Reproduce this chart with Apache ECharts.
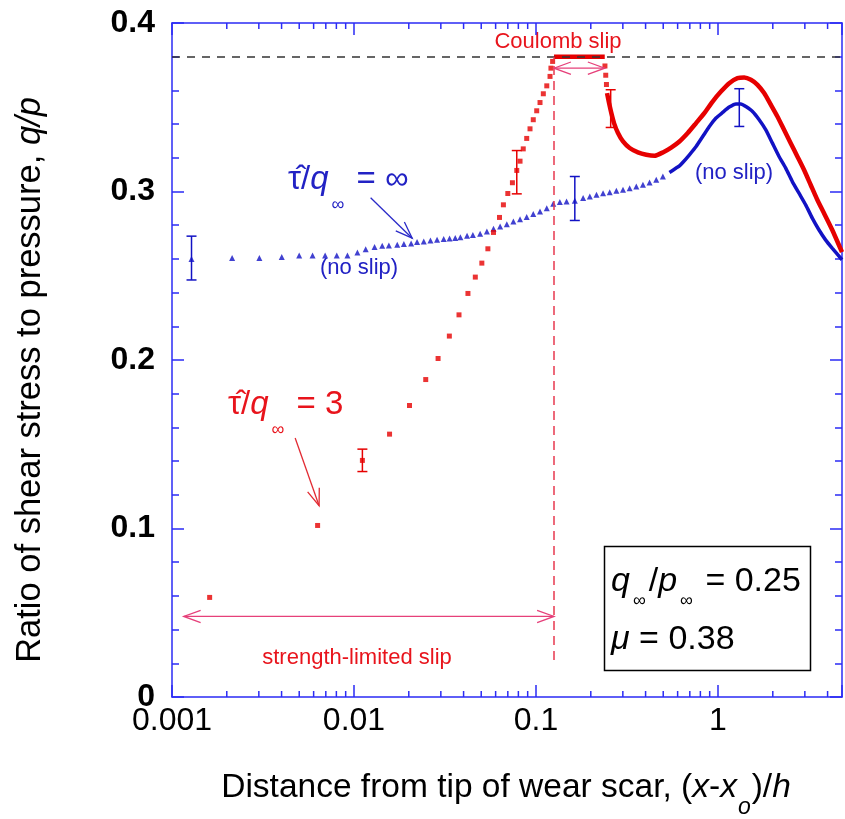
<!DOCTYPE html>
<html>
<head>
<meta charset="utf-8">
<script src="https://cdn.jsdelivr.net/npm/echarts@6/dist/echarts.min.js"></script>
<style>
  html, body { margin: 0; padding: 0; background: #ffffff; }
  #chart { width: 845px; height: 819px; }
</style>
</head>
<body>
<div id="chart"></div>
<script>
// ---- data: [distance (x-xo)/h, shear/pressure ratio q/p] ----
// no-slip case (tau/q = infinity): sparse markers, then the dense curve
const blueDots = [
  [0.00128, 0.2600], [0.00214, 0.2605], [0.00302, 0.2605], [0.00401, 0.2612], [0.00500, 0.2620],
  [0.00592, 0.2620], [0.00694, 0.2620], [0.00804, 0.2620], [0.00920, 0.2620], [0.01044, 0.2638],
  [0.01159, 0.2658], [0.01297, 0.2670], [0.01429, 0.2678], [0.01555, 0.2680], [0.01728, 0.2684],
  [0.01879, 0.2688], [0.02060, 0.2691], [0.02220, 0.2700], [0.02416, 0.2703], [0.02630, 0.2709],
  [0.02860, 0.2713], [0.03110, 0.2718], [0.03350, 0.2721], [0.03600, 0.2724], [0.03840, 0.2729],
  [0.04180, 0.2737], [0.04500, 0.2742], [0.04930, 0.2749], [0.05370, 0.2763], [0.05840, 0.2779],
  [0.06350, 0.2792], [0.06910, 0.2806], [0.07510, 0.2822], [0.08170, 0.2836], [0.08890, 0.2848],
  [0.09660, 0.2866], [0.10520, 0.2881], [0.11460, 0.2901], [0.12440, 0.2927], [0.13520, 0.2937],
  [0.14720, 0.2941], [0.16340, 0.2945], [0.18150, 0.2961], [0.19760, 0.2970], [0.21490, 0.2980],
  [0.23360, 0.2990], [0.25410, 0.2996], [0.27650, 0.3004], [0.30060, 0.3010], [0.32700, 0.3020],
  [0.35580, 0.3030], [0.38670, 0.3040], [0.42050, 0.3053], [0.45770, 0.3069], [0.49770, 0.3089]
];
const blueCurve = [
  [0.5410, 0.3113], [0.5888, 0.3139], [0.6140, 0.3152], [0.6400, 0.3172], [0.6966, 0.3218],
  [0.7580, 0.3267], [0.8240, 0.3326], [0.8960, 0.3386], [0.9750, 0.3436], [1.0600, 0.3469],
  [1.1530, 0.3501], [1.2550, 0.3520], [1.3370, 0.3520], [1.4230, 0.3504], [1.5470, 0.3475],
  [1.6830, 0.3426], [1.8310, 0.3366], [1.9900, 0.3287], [2.1640, 0.3208], [2.3550, 0.3139],
  [2.5600, 0.3059], [2.7860, 0.2990], [3.0320, 0.2921], [3.2960, 0.2842], [3.5830, 0.2773],
  [3.8980, 0.2713], [4.2380, 0.2664], [4.8000, 0.2595]
];
// [x, lower, upper]
const blueErrors = [
  [0.00128, 0.2475, 0.2735], [0.1634, 0.2828, 0.3089], [1.309, 0.3386, 0.3610]
];

// strength-limited case (tau/q = 3)
const redDots = [
  [0.00161, 0.0591], [0.00631, 0.1018], [0.01112, 0.1404], [0.01568, 0.1560], [0.02018, 0.1730],
  [0.02478, 0.1884], [0.02897, 0.2009], [0.03341, 0.2142], [0.03775, 0.2268], [0.04227, 0.2395],
  [0.0464, 0.2492], [0.0504, 0.2575], [0.0544, 0.2660], [0.0584, 0.2757], [0.0630, 0.2846],
  [0.0662, 0.2921], [0.0700, 0.2988], [0.0742, 0.3052], [0.0784, 0.3125], [0.0817, 0.3180],
  [0.0851, 0.3253], [0.0889, 0.3315], [0.0927, 0.3372], [0.0966, 0.3426], [0.1009, 0.3479],
  [0.1052, 0.3528], [0.1097, 0.3580], [0.1146, 0.3627], [0.1194, 0.3683], [0.1208, 0.3732],
  [0.1234, 0.3772], [0.2392, 0.3745], [0.2416, 0.3690], [0.2438, 0.3635]
];
const redCoulomb = [[0.1256, 0.38], [0.2386, 0.38]];
const redCurve = [
  [0.2456, 0.3584], [0.2520, 0.3525], [0.2594, 0.3465], [0.2683, 0.3406], [0.2821, 0.3347],
  [0.3006, 0.3297], [0.3270, 0.3258], [0.3631, 0.3232], [0.4036, 0.3218], [0.4479, 0.3212],
  [0.4977, 0.3232], [0.5530, 0.3261], [0.6140, 0.3297], [0.6820, 0.3347], [0.7580, 0.3406],
  [0.8410, 0.3465], [0.9340, 0.3534], [1.0380, 0.3593], [1.1530, 0.3643], [1.2800, 0.3673],
  [1.3930, 0.3677], [1.5160, 0.3663], [1.6480, 0.3633], [1.7920, 0.3584], [1.9500, 0.3515],
  [2.1200, 0.3445], [2.3060, 0.3366], [2.5090, 0.3287], [2.7290, 0.3208], [2.9670, 0.3129],
  [3.2280, 0.3040], [3.5110, 0.2951], [3.8190, 0.2872], [4.2380, 0.2773], [4.8000, 0.2640]
];
const redErrors = [
  [0.01112, 0.1338, 0.1471], [0.0784, 0.2986, 0.3243], [0.2572, 0.3380, 0.3604]
];

// friction limit mu and end of the strength-limited zone
const frictionLimit = 0.38;
const slipBoundary = 0.1256;
const coulombEnd = 0.2386;

// axis ranges and ticks
const xMin = 0.001, xMax = 4.8;
const yMin = 0, yMax = 0.4, yStep = 0.1;
const xMinorTicks = [];
[0.001, 0.01, 0.1, 1].forEach(function (d) {
  for (let k = 2; k <= 9; k++) { if (k * d < xMax) xMinorTicks.push(k * d); }
});

// annotation arrows in data coordinates
const arrows = [
  { from: [0.01234, 0.2963], to: [0.02088, 0.2723], both: false, color: '#2a2ac8' },
  { from: [0.00475, 0.1537], to: [0.00643, 0.1135], both: false, color: '#e22a32' },
  { from: [0.00116, 0.0478], to: [slipBoundary, 0.0478], both: true, color: '#e6407a' },
  { from: [slipBoundary, 0.3732], to: [coulombEnd, 0.3732], both: true, color: '#e6407a' }
];

const FONT = '"Liberation Sans", Arial, Helvetica, sans-serif';
const AXIS_BLUE = '#2b2bf5';
const DATA_BLUE = '#1212c4';
const TEXT_BLUE = '#2222c4';
const DATA_RED = '#e60000';
const TEXT_RED = '#e8141c';

const chart = echarts.init(document.getElementById('chart'), null, { renderer: 'canvas' });

function isDecade(v) {
  const l = Math.log10(v);
  return Math.abs(l - Math.round(l)) < 1e-6;
}

function xAxisCfg(showLabels) {
  return {
    type: 'log', logBase: 10, min: xMin, max: xMax, splitNumber: 4,
    axisLine: { show: true, onZero: false, lineStyle: { color: AXIS_BLUE, width: 1.5 } },
    axisTick: { show: true, inside: true, length: 12, lineStyle: { color: AXIS_BLUE, width: 1.5 } },
    minorTick: { show: false },
    splitLine: { show: false },
    axisLabel: {
      show: showLabels, margin: 8, color: '#000', fontSize: 32, fontFamily: FONT,
      formatter: function (v) { return isDecade(v) ? String(+v.toPrecision(3)) : ''; }
    }
  };
}
function yAxisCfg(showLabels) {
  return {
    type: 'value', min: yMin, max: yMax, interval: yStep,
    axisLine: { show: true, lineStyle: { color: AXIS_BLUE, width: 1.5 } },
    axisTick: { show: true, inside: true, length: 12, lineStyle: { color: AXIS_BLUE, width: 1.5 } },
    minorTick: { show: true, splitNumber: 5, length: 7, lineStyle: { color: AXIS_BLUE, width: 1.5 } },
    splitLine: { show: false },
    axisLabel: {
      show: showLabels, margin: 17, color: '#000', fontSize: 32, fontWeight: 'bold', fontFamily: FONT,
      formatter: function (v) { return v === 0 ? '0' : v.toFixed(1); }
    }
  };
}

function arrowHead(tip, from, len, ang, color) {
  const dx = from[0] - tip[0], dy = from[1] - tip[1];
  const d = Math.hypot(dx, dy) || 1;
  const ux = dx / d, uy = dy / d;
  const c = Math.cos(ang), s = Math.sin(ang);
  const a = [tip[0] + len * (ux * c - uy * s), tip[1] + len * (ux * s + uy * c)];
  const b = [tip[0] + len * (ux * c + uy * s), tip[1] + len * (-ux * s + uy * c)];
  return { type: 'polyline', shape: { points: [a, tip, b] }, style: { stroke: color, fill: 'none', lineWidth: 1.3 } };
}

function errorBarRenderer(color) {
  return function (params, api) {
    const x = api.value(0);
    const pLo = api.coord([x, api.value(1)]);
    const pHi = api.coord([x, api.value(2)]);
    const half = 5;
    const st = { stroke: color, lineWidth: 1.5 };
    return {
      type: 'group', children: [
        { type: 'line', shape: { x1: pLo[0], y1: pLo[1], x2: pHi[0], y2: pHi[1] }, style: st },
        { type: 'line', shape: { x1: pLo[0] - half, y1: pLo[1], x2: pLo[0] + half, y2: pLo[1] }, style: st },
        { type: 'line', shape: { x1: pHi[0] - half, y1: pHi[1], x2: pHi[0] + half, y2: pHi[1] }, style: st }
      ]
    };
  };
}

const option = {
  animation: false,
  backgroundColor: '#ffffff',
  grid: { left: 172, right: 2, top: 23, bottom: 122, containLabel: false },
  xAxis: [xAxisCfg(true), Object.assign(xAxisCfg(false), { position: 'top' })],
  yAxis: [yAxisCfg(true), Object.assign(yAxisCfg(false), { position: 'right' })],
  series: [
    // logarithmic minor ticks on the bottom and top frame
    {
      type: 'custom', silent: true, z: 1,
      data: xMinorTicks.map(function (v) { return [v, yMin]; }),
      renderItem: function (params, api) {
        const v = api.value(0);
        const b = api.coord([v, yMin]);
        const t = api.coord([v, yMax]);
        const st = { stroke: AXIS_BLUE, lineWidth: 1.5 };
        return {
          type: 'group', children: [
            { type: 'line', shape: { x1: b[0], y1: b[1], x2: b[0], y2: b[1] - 6 }, style: st },
            { type: 'line', shape: { x1: t[0], y1: t[1], x2: t[0], y2: t[1] + 6 }, style: st }
          ]
        };
      }
    },
    {
      name: 'no slip dots', type: 'scatter', data: blueDots, symbol: 'triangle', symbolSize: 6,
      itemStyle: { color: DATA_BLUE }, silent: true, z: 3
    },
    {
      name: 'no slip', type: 'line', data: blueCurve, showSymbol: false, smooth: 0.2,
      lineStyle: { color: DATA_BLUE, width: 3.5 }, silent: true, z: 3
    },
    {
      type: 'custom', data: blueErrors, encode: { x: 0, y: [1, 2] },
      renderItem: errorBarRenderer(DATA_BLUE), silent: true, z: 4
    },
    {
      name: 'strength-limited dots', type: 'scatter', data: redDots, symbol: 'rect', symbolSize: 5,
      itemStyle: { color: DATA_RED }, silent: true, z: 3
    },
    {
      name: 'Coulomb slip', type: 'line', data: redCoulomb, showSymbol: false,
      lineStyle: { color: DATA_RED, width: 4.5 }, silent: true, z: 3
    },
    {
      name: 'strength-limited', type: 'line', data: redCurve, showSymbol: false, smooth: 0.2,
      lineStyle: { color: DATA_RED, width: 4.5 }, silent: true, z: 3
    },
    {
      type: 'custom', data: redErrors, encode: { x: 0, y: [1, 2] },
      renderItem: errorBarRenderer(DATA_RED), silent: true, z: 4
    },
    // reference lines: friction limit and end of the strength-limited zone
    {
      type: 'line', data: [], silent: true, z: 5,
      markLine: {
        silent: true, symbol: ['none', 'none'], label: { show: false }, animation: false,
        data: [
          { yAxis: frictionLimit, lineStyle: { color: '#333333', type: [8, 7], width: 1.5 } },
          [
            { coord: [slipBoundary, 0.022], lineStyle: { color: '#e8384f', type: [9, 6], width: 1.5 } },
            { coord: [slipBoundary, frictionLimit] }
          ]
        ]
      }
    },
    // annotation arrows
    {
      type: 'custom', silent: true, z: 6,
      data: arrows.map(function (a) { return a.from; }),
      renderItem: function (params, api) {
        const a = arrows[params.dataIndex];
        const p0 = api.coord(a.from), p1 = api.coord(a.to);
        const children = [
          { type: 'line', shape: { x1: p0[0], y1: p0[1], x2: p1[0], y2: p1[1] }, style: { stroke: a.color, lineWidth: 1.3 } },
          arrowHead(p1, p0, 18, 0.35, a.color)
        ];
        if (a.both) children.push(arrowHead(p0, p1, 18, 0.35, a.color));
        return { type: 'group', children: children };
      }
    }
  ],
  graphic: [
    // axis titles
    {
      type: 'text', x: 30, y: 380, rotation: Math.PI / 2,
      style: {
        text: '{n|Ratio of shear stress to pressure, }{i|q/p}',
        align: 'center', verticalAlign: 'middle',
        rich: {
          n: { fontSize: 34.5, fontFamily: FONT, fill: '#000' },
          i: { fontSize: 34.5, fontFamily: FONT, fontStyle: 'italic', fill: '#000' }
        }
      }
    },
    {
      type: 'text', x: 506, y: 788,
      style: {
        text: '{n|Distance from tip of wear scar, (}{i|x}{n|-}{i|x}{s|o}{n|)/}{i|h}',
        align: 'center', verticalAlign: 'middle',
        rich: {
          n: { fontSize: 33.5, fontFamily: FONT, fill: '#000', lineHeight: 40 },
          i: { fontSize: 33.5, fontFamily: FONT, fontStyle: 'italic', fill: '#000', lineHeight: 40 },
          s: { fontSize: 23, fontFamily: FONT, fontStyle: 'italic', fill: '#000', lineHeight: 40, padding: [40, 1, 0, 1] }
        }
      }
    },
    // curve labels
    {
      type: 'text', x: 288, y: 160,
      style: {
        text: '{n|\u03c4\u0302/}{i|q}{s|\u221e}{n| = \u221e}',
        align: 'left', verticalAlign: 'top',
        rich: {
          n: { fontSize: 33, fontFamily: FONT, fill: TEXT_BLUE, lineHeight: 40 },
          i: { fontSize: 33, fontFamily: FONT, fontStyle: 'italic', fill: TEXT_BLUE, lineHeight: 40 },
          s: { fontSize: 18, fontFamily: FONT, fill: TEXT_BLUE, lineHeight: 40, padding: [50, 3, 0, 3] }
        }
      }
    },
    {
      type: 'text', x: 359, y: 268,
      style: { text: '(no slip)', align: 'center', verticalAlign: 'middle', fontSize: 22, fontFamily: FONT, fill: TEXT_BLUE }
    },
    {
      type: 'text', x: 734, y: 173,
      style: { text: '(no slip)', align: 'center', verticalAlign: 'middle', fontSize: 22, fontFamily: FONT, fill: TEXT_BLUE }
    },
    {
      type: 'text', x: 228, y: 385,
      style: {
        text: '{n|\u03c4\u0302/}{i|q}{s|\u221e}{n| = 3}',
        align: 'left', verticalAlign: 'top',
        rich: {
          n: { fontSize: 33, fontFamily: FONT, fill: TEXT_RED, lineHeight: 40 },
          i: { fontSize: 33, fontFamily: FONT, fontStyle: 'italic', fill: TEXT_RED, lineHeight: 40 },
          s: { fontSize: 18, fontFamily: FONT, fill: TEXT_RED, lineHeight: 40, padding: [50, 3, 0, 3] }
        }
      }
    },
    {
      type: 'text', x: 558, y: 42,
      style: { text: 'Coulomb slip', align: 'center', verticalAlign: 'middle', fontSize: 22, fontFamily: FONT, fill: TEXT_RED }
    },
    {
      type: 'text', x: 357, y: 658,
      style: { text: 'strength-limited slip', align: 'center', verticalAlign: 'middle', fontSize: 22, fontFamily: FONT, fill: TEXT_RED }
    },
    // parameter box
    {
      type: 'rect', shape: { x: 604.5, y: 546.5, width: 206, height: 124 },
      style: { fill: '#ffffff', stroke: '#000000', lineWidth: 1.5 }, z: 100
    },
    {
      type: 'text', x: 611, y: 562, z: 101,
      style: {
        text: '{i|q}{s|\u221e}{n|/}{i|p}{s|\u221e}{n| = 0.25}',
        align: 'left', verticalAlign: 'top',
        rich: {
          n: { fontSize: 34, fontFamily: FONT, fill: '#000', lineHeight: 40 },
          i: { fontSize: 34, fontFamily: FONT, fontStyle: 'italic', fill: '#000', lineHeight: 40 },
          s: { fontSize: 18, fontFamily: FONT, fill: '#000', lineHeight: 40, padding: [38, 3, 0, 3] }
        }
      }
    },
    {
      type: 'text', x: 611, y: 620, z: 101,
      style: {
        text: '{i|\u03bc}{n| = 0.38}',
        align: 'left', verticalAlign: 'top',
        rich: {
          n: { fontSize: 34, fontFamily: FONT, fill: '#000', lineHeight: 40 },
          i: { fontSize: 34, fontFamily: FONT, fontStyle: 'italic', fill: '#000', lineHeight: 40 }
        }
      }
    }
  ]
};

chart.setOption(option);
</script>
</body>
</html>
